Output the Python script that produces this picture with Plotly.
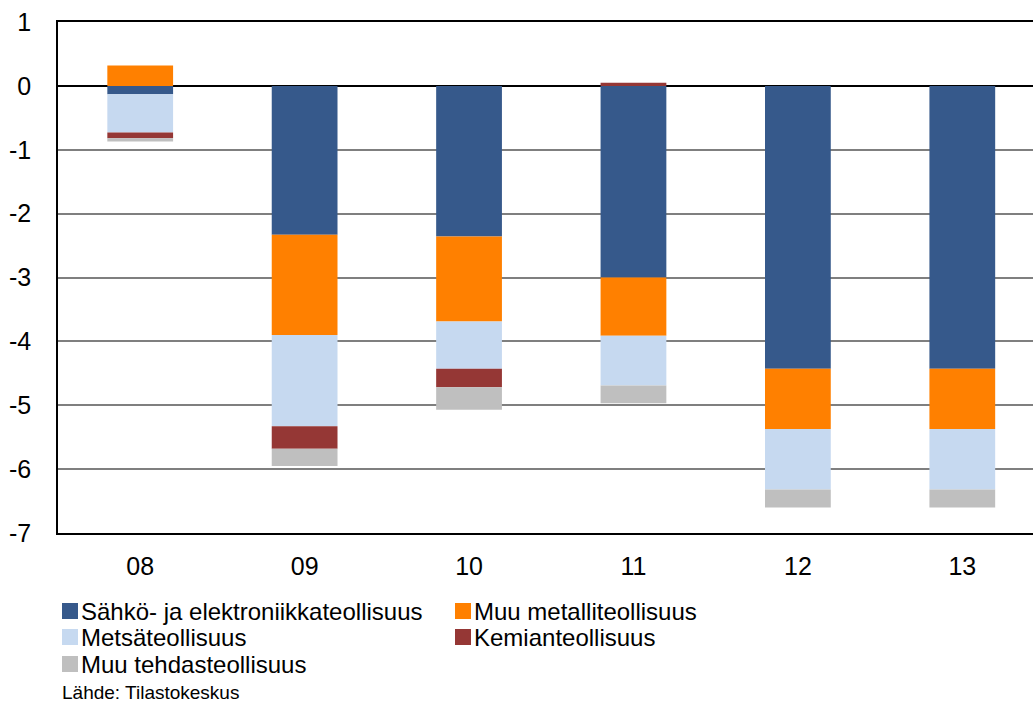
import plotly.graph_objects as go

categories = ["08", "09", "10", "11", "12", "13"]
sahko = [-0.13, -2.33, -2.36, -3.00, -4.43, -4.43]
muu_metalli = [0.32, -1.57, -1.33, -0.91, -0.94, -0.94]
metsa = [-0.60, -1.43, -0.74, -0.78, -0.95, -0.95]
kemia = [-0.09, -0.35, -0.29, 0.05, 0.0, 0.0]
muu_tehdas = [-0.05, -0.27, -0.35, -0.28, -0.28, -0.28]

y_tickvals = [1, 0, -1, -2, -3, -4, -5, -6, -7]
y_ticktext = ["1", "0", "-1", "-2", "-3", "-4", "-5", "-6", "-7"]
source_text = "Lähde: Tilastokeskus"

series = [
    ("Sähkö- ja elektroniikkateollisuus", sahko, "#36598B"),
    ("Muu metalliteollisuus", muu_metalli, "#FF8000"),
    ("Metsäteollisuus", metsa, "#C6D9F0"),
    ("Kemianteollisuus", kemia, "#953735"),
    ("Muu tehdasteollisuus", muu_tehdas, "#BFBFBF"),
]

FONT = "Liberation Sans, Arial, sans-serif"
W, H = 1033, 702
L, R, T, B = 58, 0, 22, 169
PW, PH = W - L - R, H - T - B


def px_x(px):
    return (px - L) / PW


def px_y(py):
    return (H - B - py) / PH


fig = go.Figure()
for name, vals, color in series:
    fig.add_trace(go.Bar(x=categories, y=vals, name=name,
                         marker=dict(color=color, line=dict(width=0))))

# manual legend (2 columns, tight rows like the reference)
shapes = []
annotations = []
col_x = [62, 455]
row_y = [611, 637, 664]
for i, (name, vals, color) in enumerate(series):
    r, c = divmod(i, 2)
    x0 = col_x[c]
    yc = row_y[r]
    shapes.append(dict(type="rect", xref="paper", yref="paper",
                       x0=px_x(x0), x1=px_x(x0 + 16),
                       y0=px_y(yc + 8), y1=px_y(yc - 8),
                       fillcolor=color, line=dict(width=0), layer="above"))
    annotations.append(dict(text=name, xref="paper", yref="paper",
                            x=px_x(x0 + 17), y=px_y(yc),
                            xanchor="left", yanchor="middle", showarrow=False,
                            font=dict(family=FONT, size=24, color="black")))

annotations.append(dict(text=source_text, xref="paper", yref="paper",
                        x=px_x(60), y=px_y(692), xanchor="left", yanchor="middle",
                        showarrow=False,
                        font=dict(family=FONT, size=19, color="black")))

fig.update_layout(
    width=W, height=H,
    margin=dict(l=L, r=R, t=T, b=B, autoexpand=False),
    barmode="relative",
    bargap=0.6,
    plot_bgcolor="white",
    paper_bgcolor="white",
    font=dict(family=FONT, color="black"),
    showlegend=False,
    shapes=shapes,
    annotations=annotations,
)
fig.update_xaxes(
    type="category", range=[-0.5, 5.43], automargin=False,
    showline=True, linecolor="black", linewidth=1.5, mirror=True,
    showgrid=False, ticks="", tickfont=dict(size=25, family=FONT),
    ticklabelstandoff=10,
)
fig.update_yaxes(
    range=[-7, 1], tickvals=y_tickvals, ticktext=y_ticktext, automargin=False,
    showline=True, linecolor="black", linewidth=1.5,
    showgrid=True, gridcolor="#7F7F7F", gridwidth=1.5,
    zeroline=True, zerolinecolor="black", zerolinewidth=1.5,
    ticks="", tickfont=dict(size=25, family=FONT),
    ticklabelstandoff=20,
)
fig.write_html("out.html",
               config={"displayModeBar": False},
               post_script="document.body.style.margin='0';document.body.style.padding='0';")
